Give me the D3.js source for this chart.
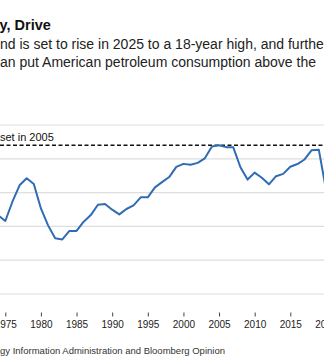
<!DOCTYPE html>
<html>
<head>
<meta charset="utf-8">
<script src="https://cdn.jsdelivr.net/npm/d3@7"></script>
<style>
  html, body { margin: 0; padding: 0; background: #fff; overflow: hidden; }
  svg { display: block; font-family: "Liberation Sans", Arial, Helvetica, sans-serif; }
</style>
</head>
<body>
<svg id="chart" width="324" height="363"></svg>
<script>
// US petroleum consumption, million barrels per day
const years = [1973, 1974, 1975, 1976, 1977, 1978, 1979, 1980, 1981, 1982, 1983, 1984,
  1985, 1986, 1987, 1988, 1989, 1990, 1991, 1992, 1993, 1994, 1995, 1996, 1997, 1998,
  1999, 2000, 2001, 2002, 2003, 2004, 2005, 2006, 2007, 2008, 2009, 2010, 2011, 2012,
  2013, 2014, 2015, 2016, 2017, 2018, 2019, 2020];
const consumption = [17.31, 16.65, 16.32, 17.46, 18.43, 18.85, 18.51, 17.06, 16.06, 15.30,
  15.23, 15.73, 15.73, 16.28, 16.67, 17.28, 17.33, 16.99, 16.71, 17.03, 17.24, 17.72,
  17.72, 18.31, 18.62, 18.92, 19.52, 19.70, 19.65, 19.76, 20.03, 20.73, 20.80, 20.69,
  20.68, 19.50, 18.77, 19.18, 18.88, 18.49, 18.97, 19.11, 19.53, 19.69, 19.96, 20.51,
  20.54, 18.19];
const recordValue = 20.80;
const yTicks = [12, 14, 16, 18, 20, 22];
const xTicks = [1975, 1980, 1985, 1990, 1995, 2000, 2005, 2010, 2015, 2020];

const titleText = "y, Drive";
const subtitleLines = [
  "nd is set to rise in 2025 to a 18-year high, and further",
  "an put American petroleum consumption above the"
];
const recordLabel = "set in 2005";
const sourceText = "gy Information Administration and Bloomberg Opinion";

const W = 324, H = 363;
const svg = d3.select("#chart");

const x = d3.scaleLinear().domain([1975, 2015]).range([5.3, 290.3]);
const y = d3.scaleLinear().domain([12, 22]).range([294, 125]);

// headline and dek
svg.append("text")
  .attr("x", -0.5).attr("y", 30)
  .attr("font-size", 14.5).attr("font-weight", "bold").attr("fill", "#111")
  .text(titleText);

svg.selectAll("text.dek")
  .data(subtitleLines)
  .join("text")
  .attr("class", "dek")
  .attr("x", 0)
  .attr("y", (d, i) => 49 + i * 17.5)
  .attr("font-size", 14).attr("fill", "#222")
  .text(d => d);

// horizontal gridlines
svg.append("g")
  .selectAll("line")
  .data(yTicks)
  .join("line")
  .attr("x1", 0).attr("x2", W)
  .attr("y1", d => y(d)).attr("y2", d => y(d))
  .attr("stroke", "#dedede").attr("stroke-width", 1.2);

// previous record reference line
svg.append("line")
  .attr("x1", 0).attr("x2", W)
  .attr("y1", y(recordValue)).attr("y2", y(recordValue))
  .attr("stroke", "#111").attr("stroke-width", 1.4)
  .attr("stroke-dasharray", "4,2.5");

svg.append("text")
  .attr("x", 0).attr("y", y(recordValue) - 4.5)
  .attr("font-size", 11).attr("fill", "#111")
  .text(recordLabel);

// consumption line
const line = d3.line()
  .x((d, i) => x(years[i]))
  .y(d => y(d));

svg.append("path")
  .datum(consumption)
  .attr("d", line)
  .attr("fill", "none")
  .attr("stroke", "#2f6cb3")
  .attr("stroke-width", 2)
  .attr("stroke-linejoin", "round");

// x axis
const xAxis = d3.axisBottom(x)
  .tickValues(xTicks)
  .tickFormat(d3.format("d"))
  .tickSize(4)
  .tickPadding(4);

const gx = svg.append("g")
  .attr("transform", "translate(0,312.5)")
  .call(xAxis);
gx.select(".domain").remove();
gx.selectAll(".tick line").attr("stroke", "#444");
gx.selectAll(".tick text")
  .attr("font-size", 10)
  .attr("font-family", "Liberation Sans, Arial, sans-serif")
  .attr("fill", "#222");

// source note
svg.append("text")
  .attr("x", 0).attr("y", 354)
  .attr("font-size", 9.5).attr("fill", "#333")
  .text(sourceText);
</script>
</body>
</html>
